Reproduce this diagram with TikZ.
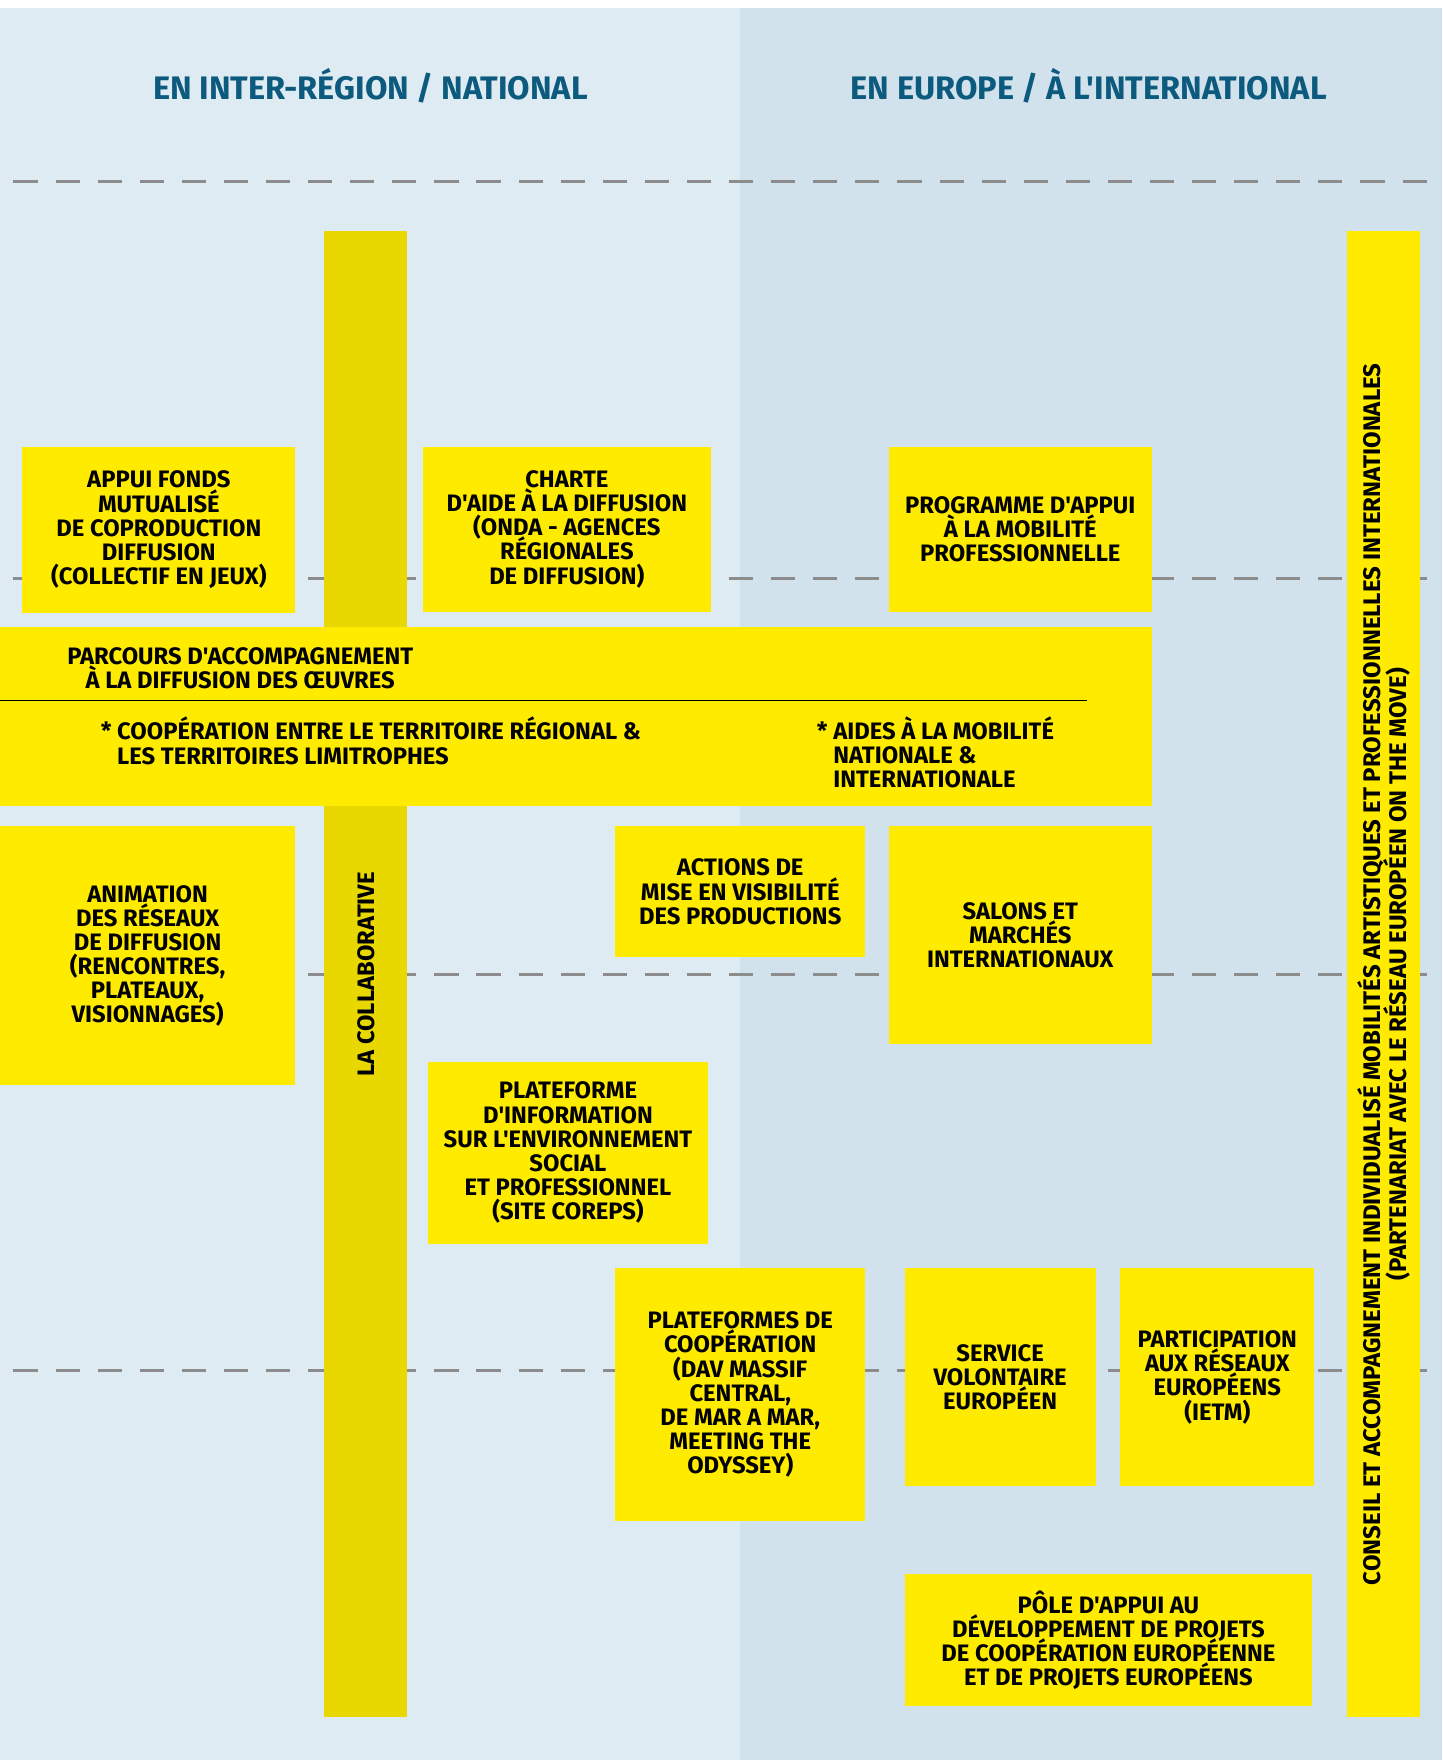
\documentclass[tikz,border=0pt]{standalone}
\usepackage{fontspec}
\setmainfont{Fira Sans}[Ligatures=TeXOff]
\definecolor{leftbg}{HTML}{DFEBF3}
\definecolor{rightbg}{HTML}{D1E2EC}
\definecolor{headblue}{HTML}{0C5A7D}
\definecolor{boxyellow}{HTML}{FFEB00}
\definecolor{baryellow}{HTML}{E8D800}
\definecolor{dashgray}{HTML}{8C8C8C}
\newcommand{\boxfont}{\bfseries\fontsize{10.6}{10.75}\selectfont\lineskiplimit=-10pt\relax}
\newcommand{\sidefont}{\bfseries\fontsize{10.7}{11.5}\selectfont\lineskiplimit=-10pt\relax}

\begin{document}
\begin{tikzpicture}[x=0.5pt, y=-0.5pt]
  \begin{scope} [
    every node/.style={inner sep=0pt, align=center},
    heading/.style={text=headblue, font=\bfseries\fontsize{14.5}{17}\selectfont},
    box/.style={fill=boxyellow, font=\boxfont},
    bar/.style={fill=baryellow},
    sidebar/.style={fill=boxyellow},
    bandtext/.style={font=\boxfont},
    guide/.style={dashgray, line width=1.3pt, dash pattern=on 10.75pt off 8pt}]
    \useasboundingbox (0,0) rectangle (1285,1568);
    \fill[leftbg] (0,7) rectangle (659,1568);
    \fill[rightbg] (659,7) rectangle (1285,1568);

    \node[heading] (national) at (330,76) {EN INTER-RÉGION / NATIONAL};
    \node[heading] (europe) at (970,76) {EN EUROPE / À L'INTERNATIONAL};

    \foreach \y in {162,515,868,1221}
      \draw[guide] (12,\y) -- (1285,\y);

    \node[bar, minimum width=37pt, minimum height=662pt] (collab) at (326,868) {};
    \node[rotate=90, bandtext] (collabtext) at (collab.center) {LA COLLABORATIVE};
    \node[sidebar, minimum width=32.5pt, minimum height=662pt] (conseil) at (1232.5,868) {};
    \node[rotate=90, font=\sidefont] (conseiltext) at (1233,868)
      {CONSEIL ET ACCOMPAGNEMENT INDIVIDUALISÉ MOBILITÉS ARTISTIQUES ET PROFESSIONNELLES INTERNATIONALES\\(PARTENARIAT AVEC LE RÉSEAU EUROPÉEN ON THE MOVE)};

    \node[box, minimum width=121.5pt, minimum height=74pt] (fonds) at (141.5,472)
      {APPUI FONDS\\MUTUALISÉ\\DE COPRODUCTION\\DIFFUSION\\(COLLECTIF EN JEUX)};
    \node[box, minimum width=128pt, minimum height=73.5pt] (charte) at (505,471.5)
      {CHARTE\\D'AIDE À LA DIFFUSION\\(ONDA - AGENCES\\RÉGIONALES\\DE DIFFUSION)};
    \node[box, minimum width=117pt, minimum height=73.5pt] (mobilite) at (909,471.5)
      {PROGRAMME D'APPUI\\À LA MOBILITÉ\\PROFESSIONNELLE};

    \node[box, minimum width=513pt, minimum height=79.5pt] (parcours) at (513,638.5) {};
    \draw[line width=0.6pt] (parcours.west |- 0,624) coordinate (rule) -- (968,624);
    \node[bandtext] (parcourstitle) at (214,595)
      {PARCOURS D'ACCOMPAGNEMENT\\À LA DIFFUSION DES ŒUVRES};
    \node[bandtext, align=left, anchor=west] (cooperation) at (104,660)
      {\llap{*\ }COOPÉRATION ENTRE LE TERRITOIRE RÉGIONAL \&\\LES TERRITOIRES LIMITROPHES};
    \node[bandtext, align=left, anchor=west] (aides) at (742,670.5)
      {\llap{*\ }AIDES À LA MOBILITÉ\\NATIONALE \&\\INTERNATIONALE};

    \node[box, minimum width=131.5pt, minimum height=115.5pt] (animation) at (131.5,851.5)
      {ANIMATION\\DES RÉSEAUX\\DE DIFFUSION\\(RENCONTRES,\\PLATEAUX,\\VISIONNAGES)};
    \node[box, minimum width=111.5pt, minimum height=58.5pt] (visibilite) at (659.5,794.5)
      {ACTIONS DE\\MISE EN VISIBILITÉ\\DES PRODUCTIONS};
    \node[box, minimum width=117pt, minimum height=97pt] (salons) at (909,833)
      {SALONS ET\\MARCHÉS\\INTERNATIONAUX};
    \node[box, minimum width=125pt, minimum height=81pt] (coreps) at (506,1027)
      {PLATEFORME\\D'INFORMATION\\SUR L'ENVIRONNEMENT\\SOCIAL\\ET PROFESSIONNEL\\(SITE COREPS)};
    \node[box, minimum width=111.5pt, minimum height=112.5pt] (plateformes) at (659.5,1242.5)
      {PLATEFORMES DE\\COOPÉRATION\\(DAV MASSIF\\CENTRAL,\\DE MAR A MAR,\\MEETING THE\\ODYSSEY)};
    \node[box, minimum width=85pt, minimum height=97pt] (volontaire) at (891,1227)
      {SERVICE\\VOLONTAIRE\\EUROPÉEN};
    \node[box, minimum width=86.5pt, minimum height=97pt] (ietm) at (1084.5,1227)
      {PARTICIPATION\\AUX RÉSEAUX\\EUROPÉENS\\(IETM)};
    \node[box, minimum width=181.5pt, minimum height=59pt] (pole) at (987.5,1461)
      {PÔLE D'APPUI AU\\DÉVELOPPEMENT DE PROJETS\\DE COOPÉRATION EUROPÉENNE\\ET DE PROJETS EUROPÉENS};
  \end{scope}
\end{tikzpicture}
\end{document}
